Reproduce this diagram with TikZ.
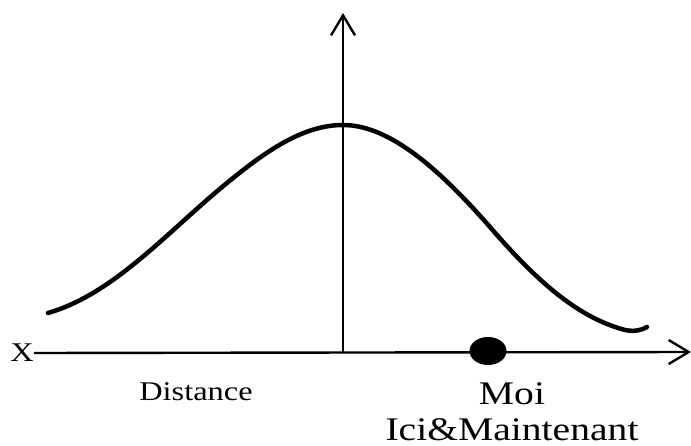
\documentclass[tikz,border=0pt]{standalone}
\usepackage{fontspec}
\setmainfont{Liberation Serif}
\usetikzlibrary{arrows.meta,shapes.geometric,positioning}
\tikzset{
  axis/.style={line width=2.4pt, -{Straight Barb[length=20pt, width=24pt, line width=2.4pt]}},
  bell/.style={line width=4.5pt, line cap=round},
  point/.style={ellipse, fill=black, minimum width=37pt, minimum height=28pt, inner sep=0pt},
  label/.style={inner sep=0pt, xscale=1.2, transform shape},
}

\begin{document}
\begin{tikzpicture}[x=1pt, y=-1pt]
\useasboundingbox (0,0) rectangle (691,446);

\node[label, font=\fontsize{27}{30}\selectfont] (xlab) at (22,353) {X};
\coordinate (orig) at (343,352);
\coordinate (xend) at (691,352);
\coordinate (yend) at (343,13);

\draw[axis] (xlab.east) -- (xend);
\draw[axis] (orig) -- (yend);

% courbe en cloche
\draw[bell] (48,313) .. controls (110,295) and (160,240) .. (215,193)
  .. controls (260,155) and (300,125) .. (343,125)
  .. controls (390,125) and (440,170) .. (490,227)
  .. controls (540,285) and (580,318) .. (625,330)
  .. controls (635,332) and (642,330) .. (647,327);

\node[point] (moi) at (488,351) {};

\node[label, font=\fontsize{27}{30}\selectfont, anchor=base] (dist) at (196,400) {Distance};
\node[label, font=\fontsize{33}{37}\selectfont, anchor=base] (moilab) at (512,404) {Moi};
\node[label, font=\fontsize{33}{37}\selectfont, anchor=base] (ici) at (512,440) {Ici\&Maintenant};
\end{tikzpicture}
\end{document}
